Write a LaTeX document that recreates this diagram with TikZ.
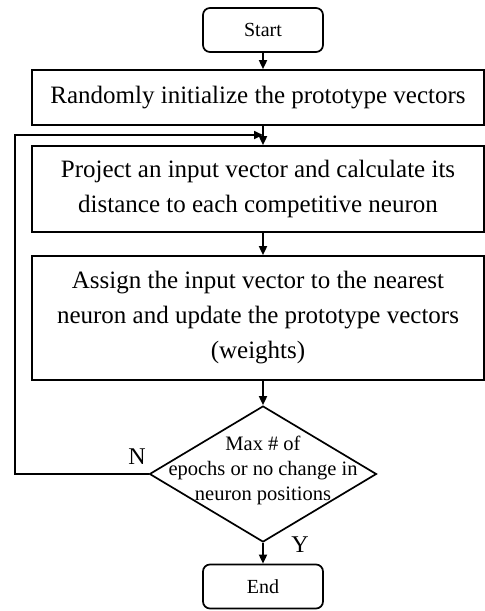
\documentclass[tikz,border=0pt]{standalone}
\usepackage{fontspec}
\setmainfont{Liberation Serif}
\usetikzlibrary{shapes.geometric,arrows.meta}
\begin{document}
\begin{tikzpicture}[x=1pt,y=-1pt,
  line width=1.7pt,
  arr/.style={-{Triangle[length=9pt,width=8pt]}},
  term/.style={draw,rounded corners=7pt,minimum width=120pt,minimum height=44pt,inner sep=0pt,font=\fontsize{20}{23}\selectfont},
  proc/.style={draw,minimum width=452pt,inner sep=0pt,align=center,font=\fontsize{25}{35}\selectfont},
  dec/.style={draw,shape=diamond,minimum width=227pt,minimum height=136pt,inner sep=0pt},
  lab/.style={font=\fontsize{24}{28}\selectfont,inner sep=0pt}]
\useasboundingbox (0,0) rectangle (485,611);
\node[term] (start) at (263,30) {Start};
\node[proc,minimum height=55pt] (b1) at (258,97.5) {Randomly initialize the prototype vectors};
\node[proc,minimum height=86pt] (b2) at (258,189) {Project an input vector and calculate its\\distance to each competitive neuron};
\node[proc,minimum height=124pt] (b3) at (258,318) {Assign the input vector to the nearest\\neuron and update the prototype vectors\\(weights)};
\node[dec] (d) at (263,474) {};
\node[align=center,font=\fontsize{20.5}{25}\selectfont,inner sep=0pt] (dt) at (263,470) {Max \# of\\epochs or no change in\\neuron positions};
\node[term] (end) at (263,586.5) {End};
\coordinate (m) at (263,135);
\coordinate (lt) at (15,135);
\coordinate (lb) at (15,474);
\node[lab] (n) at (137,457) {N};
\node[lab] (y) at (300,545) {Y};
\draw[arr] (start.south) -- (start.south |- b1.north);
\draw[arr] (start.south |- b1.south) -- (start.south |- b2.north);
\draw[arr] (start.south |- b2.south) -- (start.south |- b3.north);
\draw[arr] (start.south |- b3.south) -- (d.north);
\draw[arr] (d.south) -- (end.north);
\draw[arr] (d.west) -- (lb) -- (lt) -- (m);
\end{tikzpicture}
\end{document}
